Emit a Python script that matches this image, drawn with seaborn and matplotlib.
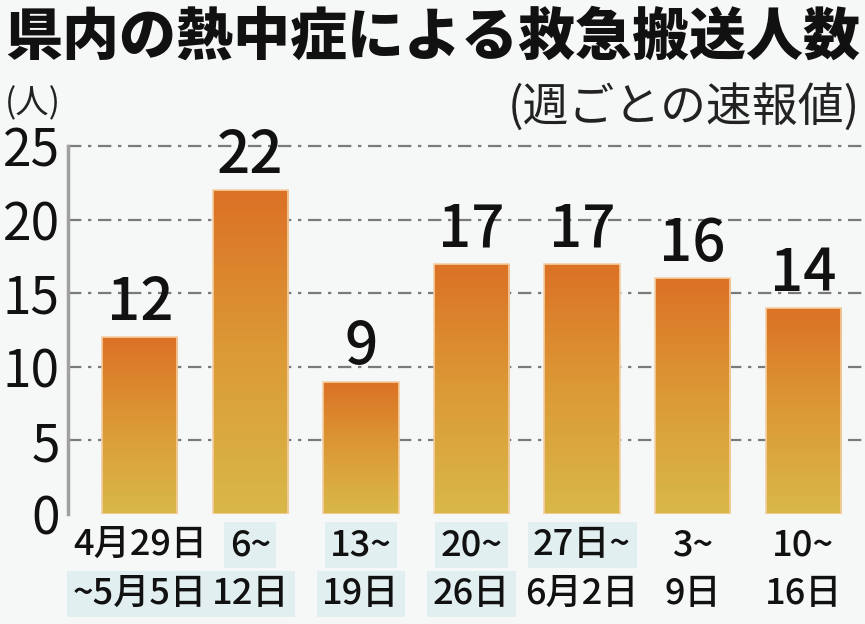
import numpy as np
import pandas as pd
import matplotlib
matplotlib.use("Agg")
import matplotlib.pyplot as plt
import seaborn as sns
from matplotlib.colors import LinearSegmentedColormap
from matplotlib import transforms

# ---- data ----
weeks_line1 = ["4月29日", "6~", "13~", "20~", "27日~", "3~", "10~"]
weeks_line2 = ["~5月5日", "12日", "19日", "26日", "6月2日", "9日", "16日"]
counts = [12, 22, 9, 17, 17, 16, 14]
yticks = [0, 5, 10, 15, 20, 25]

title = "県内の熱中症による救急搬送人数"
unit_label = "(人)"
note_label = "(週ごとの速報値)"

sns.set_theme(style="white")
plt.rcParams['font.family'] = ['Noto Sans CJK JP', 'DejaVu Sans']

BG = "#f6f7f7"
fig = plt.figure(figsize=(8.65, 6.24), dpi=100, facecolor=BG)
ax = fig.add_axes([68/865, 110/624, (864-68)/865, (514-146)/624])
ax.set_facecolor("none")

df = pd.DataFrame({"week": [f"w{i}" for i in range(len(counts))], "count": counts})
sns.barplot(data=df, x="week", y="count", ax=ax, color="#db7125", width=0.68,
            saturation=1, edgecolor="#f4cfa2", linewidth=1.2)

cmap = LinearSegmentedColormap.from_list("grad", ["#d8b848", "#dc9a36", "#db7125"])
grad = np.linspace(0, 1, 256).reshape(-1, 1)
for p in ax.patches:
    x0, y0 = p.get_x(), p.get_y()
    w, h = p.get_width(), p.get_height()
    im = ax.imshow(grad, extent=[x0, x0 + w, y0, y0 + h], origin="lower",
                   cmap=cmap, aspect="auto", zorder=2)
    im.set_clip_path(p)
    p.set_facecolor("none")
    p.set_zorder(3)
ax.set_xlim(-0.65, 6.55)
ax.set_ylim(0, 25)

# gridlines dash-dot
for yv in yticks[1:]:
    ax.axhline(yv, color="#7a7a7a", lw=1.6, dashes=(6, 3, 1.5, 3), zorder=1, clip_on=False)

# spines
for s in ["top", "right", "bottom"]:
    ax.spines[s].set_visible(False)
ax.spines["left"].set_color("#a0a0a0")
ax.spines["left"].set_linewidth(2.5)

ax.set_yticks(yticks)
ax.set_yticklabels([str(v) for v in yticks], fontsize=37, color="#111111")
ax.tick_params(axis="y", length=0, pad=6)
ax.set_xticks(range(len(counts)))
ax.set_xticklabels([])
ax.tick_params(axis="x", length=0)
ax.set_xlabel("")
ax.set_ylabel("")

# value labels
for i, v in enumerate(counts):
    ax.annotate(str(v), (i, v), xytext=(0, 3), textcoords="offset points",
                ha="center", va="bottom", fontsize=42, fontweight="medium", color="#111111")

# x labels (two lines) with light blue patches like the reference
box1 = [False, True, True, True, True, False, False]
box2 = [True, True, True, True, False, False, False]
trans = transforms.blended_transform_factory(ax.transData, fig.transFigure)
for i in range(len(counts)):
    kw1 = dict(boxstyle="square,pad=0.15", fc="#e2eff1", ec="none") if box1[i] else None
    kw2 = dict(boxstyle="square,pad=0.15", fc="#e2eff1", ec="none") if box2[i] else None
    ax.text(i, 1 - 545/624, weeks_line1[i], transform=trans, ha="center", va="center",
            fontsize=26, fontweight="medium", color="#111111", bbox=kw1)
    ax.text(i, 1 - 594/624, weeks_line2[i], transform=trans, ha="center", va="center",
            fontsize=26, fontweight="medium", color="#111111", bbox=kw2)

fig.text(5/865, 1 - 38/624, title, ha="left", va="center", fontsize=41,
         fontweight="black", color="#111111")
fig.text(5/865, 1 - 104/624, unit_label, ha="left", va="center", fontsize=24, color="#222222")
fig.text(860/865, 1 - 108/624, note_label, ha="right", va="center", fontsize=33, color="#222222")

fig.savefig("out.png", dpi=100, facecolor=BG)
